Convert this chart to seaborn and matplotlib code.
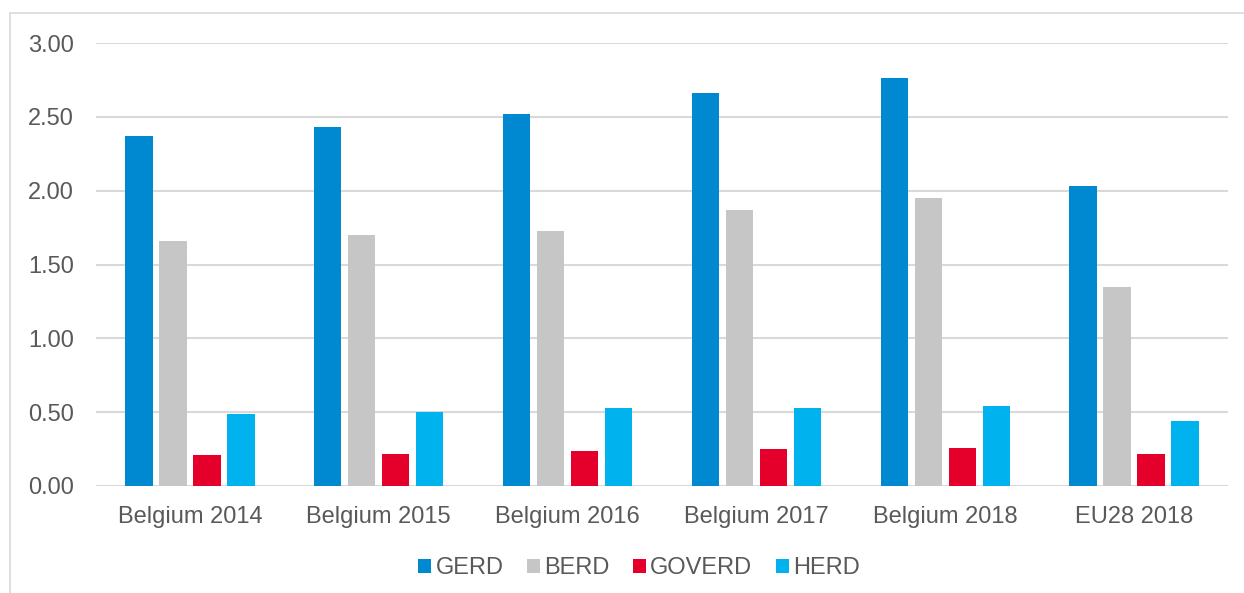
import matplotlib
matplotlib.use("Agg")
import matplotlib.pyplot as plt
from matplotlib.patches import Patch, Rectangle
import numpy as np
import pandas as pd
import seaborn as sns

categories = ["Belgium 2014", "Belgium 2015", "Belgium 2016",
              "Belgium 2017", "Belgium 2018", "EU28 2018"]
series = ["GERD", "BERD", "GOVERD", "HERD"]
gerd = [2.37, 2.43, 2.52, 2.66, 2.76, 2.03]
berd = [1.66, 1.70, 1.73, 1.87, 1.95, 1.35]
goverd = [0.21, 0.22, 0.24, 0.25, 0.26, 0.22]
herd = [0.49, 0.50, 0.53, 0.53, 0.54, 0.44]
yticks = [0.0, 0.5, 1.0, 1.5, 2.0, 2.5, 3.0]

colors = ["#0088D0", "#C6C6C6", "#E4002B", "#00B2EE"]
text_color = "#595959"
grid_color = "#D9D9D9"

df = pd.DataFrame({
    "category": categories * 4,
    "series": [s for s in series for _ in categories],
    "value": gerd + berd + goverd + herd,
})

sns.set_style("white")
plt.rcParams["font.family"] = ["Liberation Sans", "DejaVu Sans"]

W, H = 1244, 593
fig = plt.figure(figsize=(W / 100, H / 100), dpi=100)
ax = fig.add_axes([95.6 / W, 1 - 486 / H, (1228.4 - 95.6) / W, (486 - 43) / H])

sns.barplot(data=df, x="category", y="value", hue="series",
            order=categories, hue_order=series, palette=colors,
            width=0.72, gap=0.2, ax=ax, legend=False, errorbar=None,
            saturation=1, edgecolor="none", zorder=3)

ax.set_ylim(0, 3.0)
ax.set_xlim(-0.5, len(categories) - 0.5)
ax.set_yticks(yticks)
ax.set_yticklabels([f"{v:.2f}" for v in yticks])
for v in yticks:
    ax.axhline(v, color=grid_color, lw=1.5, zorder=1)
for s in ax.spines.values():
    s.set_visible(False)
ax.tick_params(axis="both", length=0, labelsize=17, colors=text_color)
ax.tick_params(axis="y", pad=15.5)
ax.tick_params(axis="x", pad=14.5)
ax.set_xlabel("")
ax.set_ylabel("")

handles = [Patch(facecolor=c, edgecolor="none", label=s) for s, c in zip(series, colors)]
fig.legend(handles=handles, loc="center", bbox_to_anchor=(639 / W, 1 - 568 / H),
           ncol=4, frameon=False, fontsize=17, labelcolor=text_color,
           handlelength=0.55, handleheight=0.55, handletextpad=0.17,
           columnspacing=1.0)

# Light frame around the chart area
fig.patches.append(Rectangle((10 / W, -0.1), 1.2, 1 - 13 / H + 0.1,
                             transform=fig.transFigure, fill=False,
                             edgecolor=grid_color, lw=1.2))

fig.savefig("out.png", dpi=100)
